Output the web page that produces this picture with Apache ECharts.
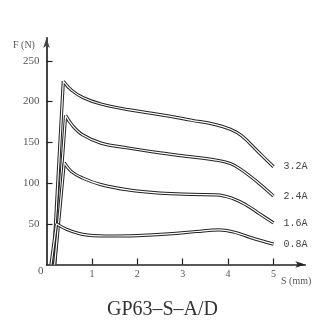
<!DOCTYPE html>
<html><head><meta charset="utf-8">
<script src="https://cdn.jsdelivr.net/npm/echarts@6/dist/echarts.min.js"></script>
<style>html,body{margin:0;padding:0;background:#fff}#c{width:325px;height:336px}</style>
</head><body><div id="c"></div>
<script>
const xTicks = [1, 2, 3, 4, 5];
const yTicks = [50, 100, 150, 200, 250];
const seriesNames = ['3.2A', '2.4A', '1.6A', '0.8A'];
// rise segments (start on axis -> peak)
const rise32 = [[0.15,0],[0.37,225]];
const rise24 = [[0.18,0],[0.42,183]];
const rise16 = [[0.18,0],[0.39,125]];
const rise08 = [[0.1,0],[0.22,50]];
// decay segments (peak -> end)
const decay32 = [[0.37,225],[0.55,214],[0.8,205],[1.2,197],[1.8,190],[2.5,184],[3.2,177],[3.7,172],[4.05,166],[4.3,158],[4.65,139],[5.0,120]];
const decay24 = [[0.42,183],[0.58,170],[0.8,159],[1.2,149],[1.8,143],[2.5,137],[3.2,132],[3.7,128.5],[4.05,124],[4.3,116],[4.65,101],[5.0,84]];
const decay16 = [[0.39,125],[0.55,114],[0.8,106],[1.2,98],[1.8,91.5],[2.5,87.5],[3.2,86],[3.75,85.5],[4.1,81],[4.4,73],[4.7,62],[5.0,51]];
const decay08 = [[0.22,50],[0.45,43],[0.8,37],[1.3,35],[2.0,35.5],[2.7,37.5],[3.3,40.5],[3.8,42.5],[4.15,39.5],[4.5,33],[5.0,25]];
const rises = [rise32, rise24, rise16, rise08];
const decays = [decay32, decay24, decay16, decay08];

const series = [];
decays.forEach((d, i) => {
  const base = { type: 'line', symbol: 'none', silent: true };
  series.push(Object.assign({}, base, { data: rises[i], z: 2 + i * 4, lineStyle: { color: '#222', width: 3.2 } }));
  series.push(Object.assign({}, base, { data: d, smooth: 0.4, z: 3 + i * 4, lineStyle: { color: '#222', width: 3.2 },
    endLabel: { show: true, formatter: seriesNames[i], distance: 10, color: '#444', fontFamily: 'Liberation Mono', fontSize: 10 } }));
  series.push(Object.assign({}, base, { data: rises[i], z: 4 + i * 4, lineStyle: { color: '#fff', width: 1.2 } }));
  series.push(Object.assign({}, base, { data: d, smooth: 0.4, z: 5 + i * 4, lineStyle: { color: '#fff', width: 1.2 } }));
});

const chart = echarts.init(document.getElementById('c'), null, { renderer: 'canvas' });
chart.setOption({
  backgroundColor: '#fff',
  animation: false,
  grid: { left: 46.5, top: 38, width: 258.8, height: 226.5 },
  xAxis: {
    type: 'value', min: 0, max: 5.7, interval: 1,
    splitLine: { show: false },
    axisLine: { lineStyle: { color: '#222', width: 1.5 }, symbol: ['none', 'arrow'], symbolSize: [5, 10] },
    axisTick: { show: true, inside: true, length: 6, customValues: xTicks, lineStyle: { color: '#222', width: 1.2 } },
    axisLabel: { customValues: xTicks, margin: 5, color: '#555', fontFamily: 'Liberation Serif', fontSize: 10 }
  },
  yAxis: {
    type: 'value', min: 0, max: 278, interval: 50,
    splitLine: { show: false },
    axisLine: { lineStyle: { color: '#444', width: 2 }, symbol: ['none', 'arrow'], symbolSize: [5, 10] },
    axisTick: { show: true, inside: true, length: 6, customValues: yTicks, lineStyle: { color: '#222', width: 1.2 } },
    axisLabel: { customValues: yTicks, margin: 7, color: '#555', fontFamily: 'Liberation Serif', fontSize: 11 }
  },
  graphic: [
    { type: 'text', left: 13, top: 40, style: { text: 'F (N)', fill: '#555', font: '10px "Liberation Serif"' } },
    { type: 'text', left: 281, top: 276, style: { text: 'S (mm)', fill: '#555', font: '10px "Liberation Serif"' } },
    { type: 'text', left: 38, top: 266, style: { text: '0', fill: '#555', font: '11px "Liberation Serif"' } },
    { type: 'text', left: 'center', top: 300, style: { text: 'GP63–S–A/D', fill: '#333', font: '20px "Liberation Serif"' } }
  ],
  series: series
});
</script></body></html>
